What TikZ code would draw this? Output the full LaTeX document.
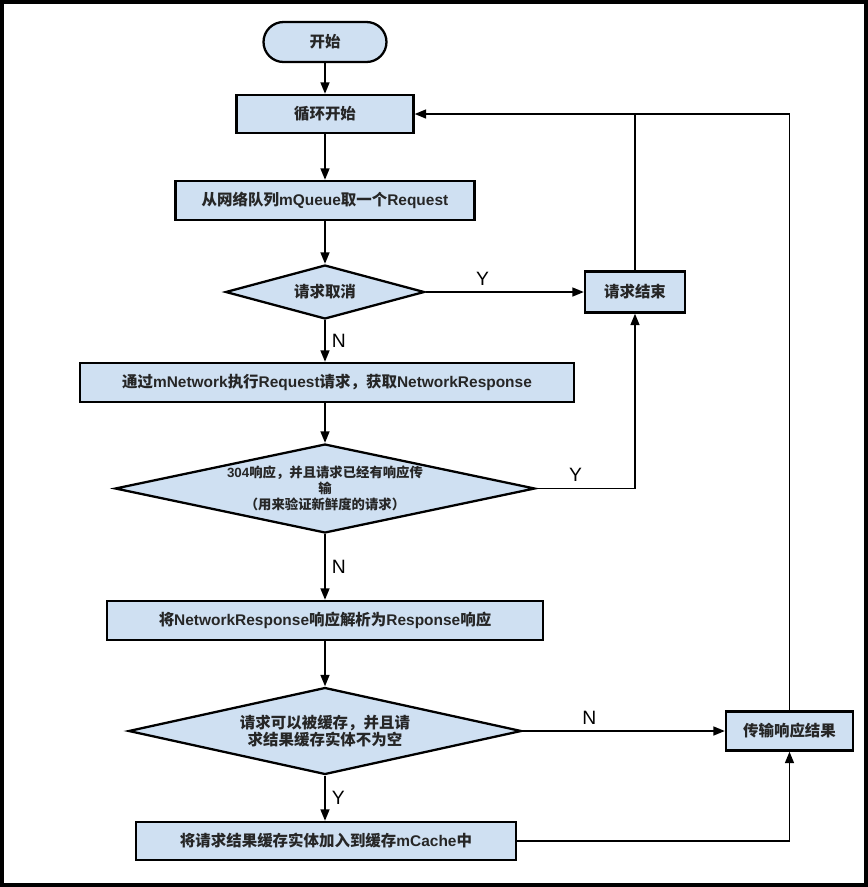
\documentclass[tikz,border=0pt]{standalone}
\usepackage{fontspec}
\setmainfont{Liberation Sans}
\newfontfamily\cjk{Noto Sans CJK SC}
\usepackage{tikz}
\usetikzlibrary{arrows.meta, shapes.geometric, positioning}
\definecolor{boxblue}{RGB}{207,224,242}
\newcommand{\zh}[1]{{\cjk #1}}

\begin{document}
\begin{tikzpicture}[
  x=0.02cm, y=-0.02cm,
  >={Triangle[length=6.5pt, width=5pt]},
  line width=1.1pt,
  boxtext/.style={font=\fontsize{8.8}{9.6}\selectfont\bfseries, text=black!85},
  flowbox/.style={boxtext, draw, fill=boxblue, line width=1.3pt,
                  minimum height=0.78cm, align=center},
  startbox/.style={flowbox, rounded corners=0.4cm,
                   minimum width=2.46cm, minimum height=0.8cm},
  decisionbox/.style={diamond, draw, fill=boxblue, line width=1.3pt,
                      inner sep=0pt},
  decisiontext/.style={boxtext, align=center},
  ynlabel/.style={font=\fontsize{11}{13}\selectfont, text=black}
]

\def\cx{325}

\useasboundingbox (0,0) rectangle (868,887);
\draw[line width=2.3pt] (2,2) rectangle (866,885);

\node[startbox] (start) at (\cx,42) {\zh{开始}};
\node[flowbox, minimum width=3.54cm, minimum height=0.76cm] (loop) at (\cx,114) {\zh{循环开始}};
\node[flowbox, minimum width=5.98cm] (fetch) at (\cx,200.5) {\zh{从网络队列}mQueue\zh{取一个}Request};
\node[decisionbox, minimum width=3.98cm, minimum height=1.08cm] (cancel) at (\cx,292) {};
\node[decisiontext] (canceltext) at (cancel) {\zh{请求取消}};
\node[flowbox, minimum width=2.0cm, minimum height=0.82cm] (reqend) at (635,292) {\zh{请求结束}};
\node[flowbox, minimum width=9.88cm] (network) at (327,382.5)
  {\zh{通过}mNetwork\zh{执行}Request\zh{请求，获取}NetworkResponse};
\node[decisionbox, minimum width=8.4cm, minimum height=1.78cm] (notmod) at (\cx,488.5) {};
\node[decisiontext, font=\fontsize{7.6}{9}\selectfont\bfseries] (notmodtext) at (notmod)
  {304\zh{响应，并且请求已经有响应传}\\\zh{输}\\\zh{（用来验证新鲜度的请求）}};
\node[flowbox, minimum width=8.72cm] (parse) at (\cx,620.5)
  {\zh{将}NetworkResponse\zh{响应解析为}Response\zh{响应}};
\node[decisionbox, minimum width=7.86cm, minimum height=1.74cm] (cacheable) at (\cx,731) {};
\node[decisiontext] (cacheabletext) at (cacheable)
  {\zh{请求可以被缓存，并且请}\\\zh{求结果缓存实体不为空}};
\node[flowbox, minimum width=2.54cm] (transfer) at (789.5,731) {\zh{传输响应结果}};
\node[flowbox, minimum width=7.6cm, minimum height=0.76cm] (cache) at (326,841)
  {\zh{将请求结果缓存实体加入到缓存}mCache\zh{中}};

\draw[->] (start) -- (loop);
\draw[->] (loop) -- (fetch);
\draw[->] (fetch) -- (cancel);
\draw[->] (cancel) -- node[ynlabel, right] {N} (cancel |- network.north);
\draw[->] (cancel) -- node[ynlabel, above, pos=0.36] {Y} (reqend);
\draw[->] (network.south -| notmod) -- (notmod);
\draw[->] (notmod.east) -| node[ynlabel, above, pos=0.2] {Y} (reqend.south);
\draw[->] (notmod) -- node[ynlabel, right] {N} (parse);
\draw[->] (parse) -- (cacheable);
\draw[->] (cacheable) -- node[ynlabel, above, pos=0.33] {N} (transfer);
\draw[->] (cacheable) -- node[ynlabel, right] {Y} (cacheable |- cache.north);
\draw[->] (cache.east) -| (transfer.south);
\draw[->] (transfer.north) |- (loop.east);
\draw (reqend.north) -- (reqend.north |- loop.east);

\end{tikzpicture}
\end{document}
